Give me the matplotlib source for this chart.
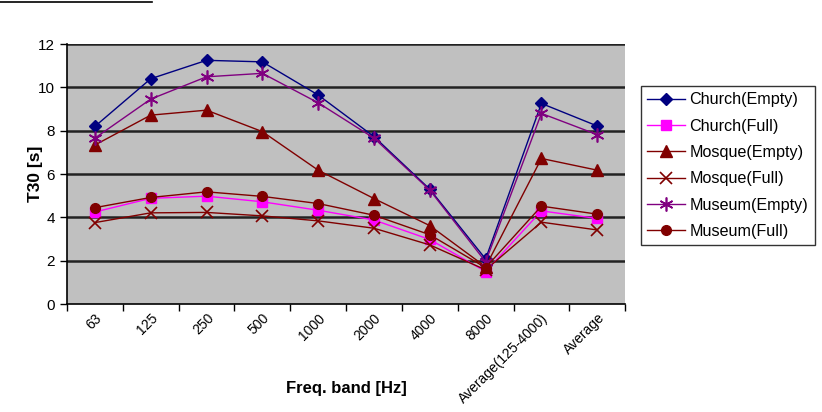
import matplotlib
matplotlib.use("Agg")
import matplotlib.pyplot as plt
from matplotlib.lines import Line2D
import numpy as np

plt.rcParams['font.family'] = ['Liberation Sans', 'DejaVu Sans']

bands = ["63", "125", "250", "500", "1000", "2000", "4000", "8000",
         "Average(125-4000)", "Average"]

church_empty = [8.2, 10.4, 11.25, 11.18, 9.65, 7.73, 5.3, 2.08, 9.26, 8.22]
church_full = [4.25, 4.88, 4.98, 4.72, 4.33, 3.88, 2.98, 1.5, 4.3, 3.95]
mosque_empty = [7.34, 8.72, 8.95, 7.96, 6.18, 4.87, 3.62, 1.72, 6.72, 6.18]
mosque_full = [3.76, 4.21, 4.23, 4.07, 3.84, 3.5, 2.73, 1.58, 3.78, 3.42]
museum_empty = [7.66, 9.46, 10.49, 10.65, 9.29, 7.66, 5.26, 1.95, 8.8, 7.82]
museum_full = [4.45, 4.92, 5.18, 4.97, 4.64, 4.1, 3.2, 1.68, 4.52, 4.15]

x = np.arange(len(bands)) + 0.5

fig = plt.figure(figsize=(8.22, 4.12), dpi=100)
ax = fig.add_axes([0.0815, 0.262, 0.679, 0.631])
ax.set_facecolor("#C0C0C0")

ax.plot(x, church_empty, color="#000080", marker="D", ms=6, lw=1, label="Church(Empty)")
ax.plot(x, church_full, color="#FF00FF", marker="s", ms=7, lw=1, label="Church(Full)")
ax.plot(x, mosque_empty, color="#800000", marker="^", ms=8, lw=1, label="Mosque(Empty)")
ax.plot(x, mosque_full, color="#800000", marker="x", ms=9, mew=1.2, lw=1, label="Mosque(Full)")
ax.plot(x, museum_empty, color="#800080", marker=(6, 2, 0), ms=10, mew=1.2, lw=1, label="Museum(Empty)")
ax.plot(x, museum_full, color="#800000", marker="o", ms=7, lw=1, label="Museum(Full)")

ax.set_xlim(0, len(bands))
ax.set_ylim(0, 12)
ax.set_yticks(range(0, 13, 2))
for yv in range(2, 13, 2):
    ax.axhline(yv, color="#222222", lw=1.8, zorder=0.5)

ax.set_xticks(range(len(bands) + 1))
ax.set_xticklabels([])
ax.set_xticks(x, minor=True)
ax.set_xticklabels(bands, minor=True, rotation=45, ha="right", rotation_mode="anchor", fontsize=10)
ax.tick_params(axis="x", which="minor", length=0, pad=5)
ax.tick_params(axis="x", which="major", length=5, width=1)
ax.tick_params(axis="y", length=5, width=1, labelsize=11)

for s in ["top", "right"]:
    ax.spines[s].set_visible(False)
ax.spines["left"].set_linewidth(1.2)
ax.spines["bottom"].set_linewidth(1.2)

ax.set_xlabel("Freq. band [Hz]", fontsize=12, fontweight="bold")
ax.xaxis.set_label_coords(0.5, -0.295)
ax.set_ylabel("T30 [s]", fontsize=12.5, fontweight="bold")
ax.yaxis.set_label_coords(-0.043, 0.5)

leg = fig.legend(loc="upper left", bbox_to_anchor=(641 / 822, 1 - 86 / 412),
                 bbox_transform=fig.transFigure, frameon=True,
                 fancybox=False, edgecolor="black", fontsize=11.6,
                 handlelength=2.3, handletextpad=0.3, borderpad=0.4,
                 borderaxespad=0, labelspacing=0.7)
leg.get_frame().set_linewidth(1.0)

fig.add_artist(Line2D([0, 152 / 822], [1 - 2 / 412, 1 - 2 / 412], color="black", lw=1.2))

fig.savefig("out.png", dpi=100)
